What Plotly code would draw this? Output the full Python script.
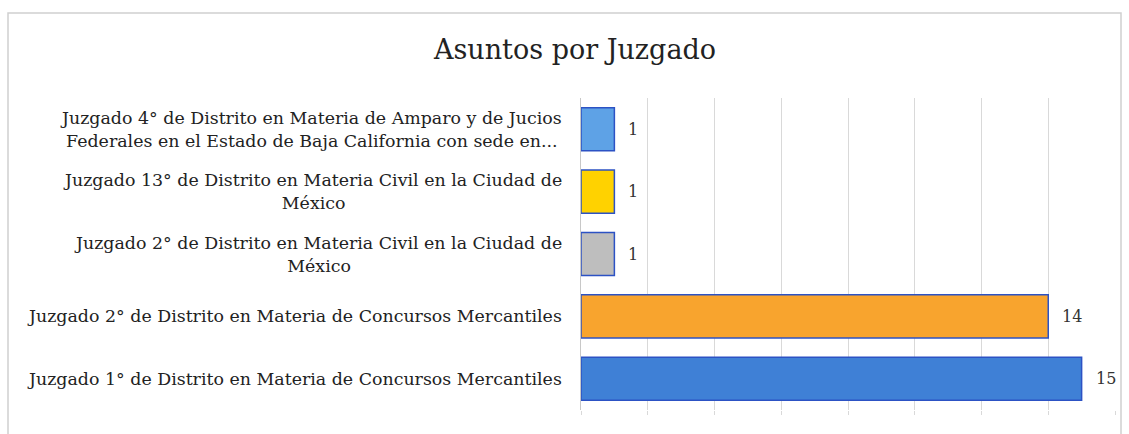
import plotly.graph_objects as go

categories = [
    "Juzgado 4° de Distrito en Materia de Amparo y de Jucios<br>Federales en el Estado de Baja California con sede en...",
    "Juzgado 13° de Distrito en Materia Civil en la Ciudad de<br>México",
    "Juzgado 2° de Distrito en Materia Civil en la Ciudad de<br>México",
    "Juzgado 2° de Distrito en Materia de Concursos Mercantiles",
    "Juzgado 1° de Distrito en Materia de Concursos Mercantiles",
]
values = [1, 1, 1, 14, 15]
bar_colors = ["#5EA2E6", "#FFD200", "#BEBEBE", "#F8A42E", "#3F80D6"]
title_text = "Asuntos por Juzgado"

FONT = "DejaVu Serif"
W, H = 1129, 434
L, R, T, B = 581, 14, 98, 24

fig = go.Figure()
fig.add_trace(go.Bar(
    x=values,
    y=categories,
    orientation="h",
    marker=dict(color=bar_colors, line=dict(color="#2C52C4", width=1.5)),
    hoverinfo="x+y",
    showlegend=False,
))

annotations = []
for c, v in zip(categories, values):
    annotations.append(dict(
        x=v, y=c, xref="x", yref="y", text=str(v), showarrow=False,
        xanchor="left", yanchor="middle", xshift=12,
        font=dict(family=FONT, size=16, color="#333333"),
    ))
    annotations.append(dict(
        x=0, y=c, xref="paper", yref="y", text=c, showarrow=False,
        xanchor="right", yanchor="middle", xshift=-17, align="center",
        font=dict(family=FONT, size=17.4, color="#222222"),
    ))

pw = W - L - R
ph = H - T - B
shapes = [dict(
    type="rect", xref="paper", yref="paper",
    x0=(8 - L) / pw, x1=(1121 - L) / pw,
    y0=-(440 - (H - B)) / ph, y1=((H - B) - 13) / ph,
    line=dict(color="#D0D0D0", width=1.5), fillcolor="rgba(0,0,0,0)", layer="below",
)]

fig.update_layout(
    width=W, height=H,
    margin=dict(l=L, r=R, t=T, b=B),
    paper_bgcolor="white", plot_bgcolor="white",
    bargap=0.31,
    title=dict(text=title_text, x=575 / W, xref="container", xanchor="center",
               y=1 - 50 / H, yref="container", yanchor="middle",
               font=dict(family=FONT, size=27, color="#222222")),
    xaxis=dict(range=[0, 16], dtick=2, showgrid=True, gridcolor="#D9D9D9", gridwidth=1,
               showticklabels=False, zeroline=False, ticks="outside", ticklen=4,
               tickcolor="#D9D9D9", fixedrange=True),
    yaxis=dict(autorange="reversed", showticklabels=False, showline=True,
               linecolor="#C8C8C8", linewidth=1, showgrid=False, fixedrange=True),
    annotations=annotations,
    shapes=shapes,
)

fig.write_html("out.html", config={"displayModeBar": False},
               post_script="document.body.style.margin='0px';document.body.style.overflow='hidden';")
